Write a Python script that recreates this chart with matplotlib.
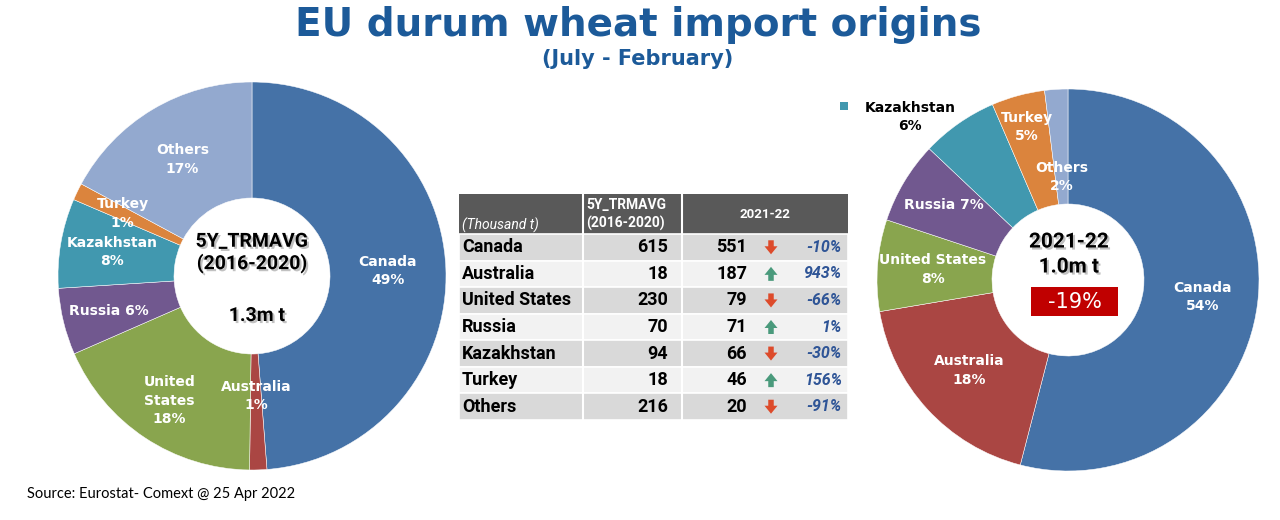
import matplotlib
matplotlib.use("Agg")
import matplotlib.pyplot as plt
from matplotlib.patches import Rectangle, FancyArrow
import matplotlib.patheffects as pe
import numpy as np

# ---------------- data ----------------
countries = ["Canada", "Australia", "United States", "Russia", "Kazakhstan", "Turkey", "Others"]
avg_5y = [615, 18, 230, 70, 94, 18, 216]          # thousand t, 2016-2020 average
mkt_2122 = [551, 187, 79, 71, 66, 46, 20]         # thousand t, 2021-22
change_pct = [-10, 943, -66, 1, -30, 156, -91]
share_5y = [49, 1, 18, 6, 8, 1, 17]
share_2122 = [54, 18, 8, 7, 6, 5, 2]
total_change_pct = -19
left_names = ["Canada", "Australia", "United\nStates", "Russia", "Kazakhstan", "Turkey", "Others"]
left_sep = ["\n", "\n", "\n", " ", "\n", "\n", "\n"]
right_names = ["Canada", "Australia", "United States", "Russia", "Kazakhstan", "Turkey", "Others"]
right_sep = ["\n", "\n", "\n", " ", "\n", "\n", "\n"]

# ---------------- style ----------------
colors = ["#4572A7", "#AA4643", "#89A54E", "#71588F", "#4198AF", "#DB843D", "#93A9CF"]
title_color = "#1C5A99"
left_rfrac = [0.70, 0.62, 0.77, 0.76, 0.73, 0.74, 0.70]
right_rfrac = [0.71, 0.70, 0.71, 0.76, None, 0.83, 0.54]

W, H = 1280, 520
fig = plt.figure(figsize=(W / 100, H / 100), dpi=100)
ax = fig.add_axes([0, 0, 1, 1])


def Y(py):
    return H - py


LBL = dict(family="DejaVu Sans", fontweight="bold", fontsize=10, color="white",
           ha="center", va="center", linespacing=1.4)
CJ = "Roboto"


def donut(vals, cx, cy, R, r_in, names, seps, shares, rfrac):
    wedges, _ = ax.pie(vals, colors=colors, startangle=90, counterclock=False,
                       center=(cx, Y(cy)), radius=R,
                       wedgeprops=dict(width=R - r_in, edgecolor="white", linewidth=0.35))
    for w, n, s, p, rf in zip(wedges, names, seps, shares, rfrac):
        if rf is None:
            continue
        th = np.deg2rad((w.theta1 + w.theta2) / 2)
        x = cx + rf * R * np.cos(th)
        y = Y(cy) + rf * R * np.sin(th)
        ax.text(x, y, f"{n}{s}{p}%", **LBL)
    return wedges


shadow = [pe.withSimplePatchShadow(offset=(1.5, -1.5), shadow_rgbFace="#777777", alpha=0.45)]

# left donut
donut(avg_5y, 252, 276, 194, 78, left_names, left_sep, share_5y, left_rfrac)
ax.text(252, Y(253), "5Y_TRMAVG\n(2016-2020)", family=CJ, fontweight="bold", fontsize=14,
        ha="center", va="center", linespacing=1.25, color="black", path_effects=shadow)
ax.text(257, Y(316), f"{sum(avg_5y)/1000:.1f}m t", family=CJ, fontweight="bold", fontsize=14,
        ha="center", va="center", color="black", path_effects=shadow)

# right donut
donut(mkt_2122, 1068, 280, 191, 76, right_names, right_sep, share_2122, right_rfrac)
ax.text(1069, Y(242), "2021-22", family=CJ, fontweight="bold", fontsize=15,
        ha="center", va="center", color="black", path_effects=shadow)
ax.text(1069, Y(267), f"{sum(mkt_2122)/1000:.1f}m t", family=CJ, fontweight="bold", fontsize=15,
        ha="center", va="center", color="black", path_effects=shadow)
ax.add_patch(Rectangle((1031, Y(316)), 87, 29, facecolor="#C00000", edgecolor="none"))
ax.text(1075, Y(301.5), f"{total_change_pct}%", family="DejaVu Sans", fontsize=15,
        ha="center", va="center", color="white")

# Kazakhstan outside label (right donut)
ax.add_patch(Rectangle((840, Y(110)), 8, 8, facecolor=colors[4], edgecolor="none"))
ax.text(910, Y(117), f"{right_names[4]}{right_sep[4]}{share_2122[4]}%", family="DejaVu Sans",
        fontweight="bold", fontsize=10, color="black", ha="center", va="center", linespacing=1.4)

# ---------------- table ----------------
x0, xs1, xs2, x1 = 459, 583, 682, 848
hy0, hy1 = 194, 234
row_h = (420 - 234) / len(countries)
ax.add_patch(Rectangle((x0, Y(hy1)), x1 - x0, hy1 - hy0, facecolor="#595959", edgecolor="none"))
ax.text(462, Y(225), "(Thousand t)", family=CJ, style="italic", fontsize=10, color="white",
        ha="left", va="center")
ax.text(586, Y(214.5), "5Y_TRMAVG\n(2016-2020)", family=CJ, fontweight="bold", fontsize=10,
        color="white", ha="left", va="center", linespacing=1.3)
ax.text(765, Y(214), "2021-22", family=CJ, fontweight="bold", fontsize=9.5, color="white",
        ha="center", va="center")

for i, (c, a, m, ch) in enumerate(zip(countries, avg_5y, mkt_2122, change_pct)):
    top = hy1 + i * row_h
    yc = Y(top + row_h / 2)
    fc = "#D9D9D9" if i % 2 == 0 else "#F2F2F2"
    ax.add_patch(Rectangle((x0, Y(top + row_h)), x1 - x0, row_h, facecolor=fc,
                           edgecolor="white", linewidth=1.2))
    ax.text(462, yc, c, family=CJ, fontweight="bold", fontsize=13, color="black",
            ha="left", va="center")
    ax.text(668, yc, f"{a}", family=CJ, fontweight="bold", fontsize=13, color="black",
            ha="right", va="center")
    ax.text(747, yc, f"{m}", family=CJ, fontweight="bold", fontsize=13, color="black",
            ha="right", va="center")
    up = m > a
    acol = "#4A9A7C" if up else "#DD4B2B"
    L = 14
    ys = yc - L / 2 if up else yc + L / 2
    ax.add_patch(FancyArrow(771, ys, 0, L if up else -L, width=5.5, head_width=13,
                            head_length=8, length_includes_head=True,
                            facecolor=acol, edgecolor="none"))
    ax.text(842, yc, f"{ch}%", family=CJ, fontweight="bold", style="italic", fontsize=11.5,
            color="#2E5496", ha="right", va="center")

for xv in (xs1, xs2):
    ax.plot([xv, xv], [Y(hy0), Y(420)], color="white", lw=1.5)

# ---------------- titles ----------------
ax.text(638, Y(25), "EU durum wheat import origins", family="DejaVu Sans", fontweight="bold",
        fontsize=28, color=title_color, ha="center", va="center")
ax.text(638, Y(59), "(July - February)", family="DejaVu Sans", fontweight="bold",
        fontsize=15, color=title_color, ha="center", va="center")
ax.text(27, Y(494), "Source: Eurostat- Comext @ 25 Apr 2022", family="Lato", fontsize=10.5,
        color="black", ha="left", va="center")

ax.set_xlim(0, W)
ax.set_ylim(0, H)
ax.set_aspect("equal")
ax.axis("off")
fig.savefig("out.png", dpi=100)
